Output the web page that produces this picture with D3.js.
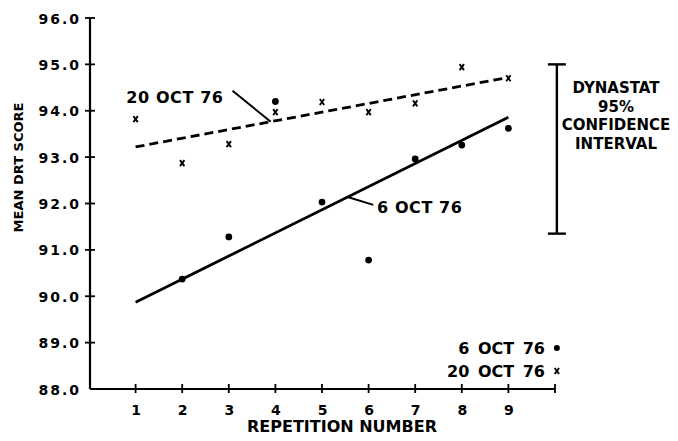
<!DOCTYPE html>
<html>
<head>
<meta charset="utf-8">
<script src="https://cdn.jsdelivr.net/npm/d3@7"></script>
<style>
  html, body { margin: 0; padding: 0; background: #fff; }
  svg text { font-family: "DejaVu Sans", sans-serif; font-weight: bold; fill: #000; }
</style>
</head>
<body>
<svg id="chart" width="678" height="441"></svg>
<script>
// ---- data ----
const repetitions = [1, 2, 3, 4, 5, 6, 7, 8, 9];
const oct6Reps   = [2, 3, 4, 5, 6, 7, 8, 9];
const oct6Values = [90.37, 91.28, 94.2, 92.03, 90.78, 92.96, 93.26, 93.62];
const oct20Values = [93.82, 92.87, 93.28, 93.97, 94.19, 93.97, 94.16, 94.94, 94.7];
const fitReps = [1, 9];
const fit6 = [89.87, 93.86];
const fit20 = [93.22, 94.72];
const yTicks = [88, 89, 90, 91, 92, 93, 94, 95, 96];
const xTicks = [1, 2, 3, 4, 5, 6, 7, 8, 9, 10];
const xTickLabels = ["1", "2", "3", "4", "5", "6", "7", "8", "9", ""];
const ciRange = [91.35, 95.0];
const ciText = ["DYNASTAT", "95%", "CONFIDENCE", "INTERVAL"];
const legendLabels = ["6 OCT 76", "20 OCT 76"];

// ---- scales ----
const svg = d3.select("#chart");
const x = d3.scaleLinear().domain([0, 10]).range([89, 555]);
const y = d3.scaleLinear().domain([88, 96]).range([389, 18]);

// ---- axes ----
const yAxis = d3.axisLeft(y).tickValues(yTicks).tickSize(0).tickFormat(d3.format(".1f"));
const gy = svg.append("g").attr("transform", `translate(${x(0) + 1},0)`).call(yAxis);
gy.select(".domain").remove();
gy.selectAll(".tick line").remove();
gy.selectAll(".tick text")
  .attr("x", -9).attr("dy", "0.36em")
  .style("font-size", "14px").style("letter-spacing", "2px");

const xAxis = d3.axisBottom(x).tickValues(xTicks).tickSize(0).tickFormat((d, i) => xTickLabels[i]);
const gx = svg.append("g").attr("transform", `translate(0,${y(88)})`).call(xAxis);
gx.select(".domain").remove();
gx.selectAll(".tick line").remove();
gx.selectAll(".tick text").attr("y", 16).attr("dy", "0.71em").style("font-size", "14px");

// axis lines
svg.append("line")
  .attr("x1", x(0) + 1).attr("x2", x(0) + 1).attr("y1", y(96)).attr("y2", y(88))
  .attr("stroke", "#000").attr("stroke-width", 2.2);
svg.append("line")
  .attr("x1", x(0) + 1).attr("x2", x(10)).attr("y1", y(88)).attr("y2", y(88))
  .attr("stroke", "#000").attr("stroke-width", 2.2);
// y ticks (crossing)
svg.selectAll(".ytk").data(yTicks.slice(1)).enter().append("line")
  .attr("x1", x(0) - 4).attr("x2", x(0) + 6)
  .attr("y1", d => y(d)).attr("y2", d => y(d))
  .attr("stroke", "#000").attr("stroke-width", 1.8);
// x ticks (crossing)
svg.selectAll(".xtk").data(xTicks).enter().append("line")
  .attr("x1", d => x(d)).attr("x2", d => x(d))
  .attr("y1", y(88) - 5).attr("y2", y(88) + 4)
  .attr("stroke", "#000").attr("stroke-width", 1.8);

// axis titles
svg.append("text")
  .attr("transform", `translate(23,${(y(96) + y(88)) / 2 - 36}) rotate(-90)`)
  .attr("text-anchor", "middle").style("font-size", "13px")
  .text("MEAN DRT SCORE");
svg.append("text")
  .attr("x", (x(0) + x(10)) / 2 + 20).attr("y", 432)
  .attr("text-anchor", "middle").style("font-size", "16px")
  .text("REPETITION NUMBER");

// ---- regression lines ----
const line = d3.line().x(d => x(d[0])).y(d => y(d[1]));
svg.append("path")
  .datum(fitReps.map((r, i) => [r, fit6[i]]))
  .attr("d", line).attr("fill", "none").attr("stroke", "#000").attr("stroke-width", 2.8);
svg.append("path")
  .datum(fitReps.map((r, i) => [r, fit20[i]]))
  .attr("d", line).attr("fill", "none").attr("stroke", "#000").attr("stroke-width", 2.8)
  .attr("stroke-dasharray", "9,5");

// ---- points ----
svg.selectAll(".dot6").data(oct6Reps.map((r, i) => [r, oct6Values[i]])).enter()
  .append("circle")
  .attr("cx", d => x(d[0])).attr("cy", d => y(d[1])).attr("r", 3.4).attr("fill", "#000");

const xMark = (g, cx, cy) => {
  g.append("path")
    .attr("d", `M${cx - 2.2},${cy - 3}L${cx + 2.2},${cy + 3}M${cx + 2.2},${cy - 3}L${cx - 2.2},${cy + 3}`)
    .attr("stroke", "#000").attr("stroke-width", 1.9).attr("fill", "none");
};
repetitions.forEach((r, i) => xMark(svg, x(r), y(oct20Values[i])));

// ---- annotations ----
const fitAt = (fit, r) => fit[0] + (fit[1] - fit[0]) * (r - fitReps[0]) / (fitReps[1] - fitReps[0]);
// 20 OCT 76 label
svg.append("text").attr("x", x(0.8)).attr("y", y(94.17))
  .style("font-size", "16px").style("letter-spacing", "0.6px").text("20 OCT 76");
svg.append("line")
  .attr("x1", x(3.08)).attr("y1", y(94.43))
  .attr("x2", x(3.9)).attr("y2", y(fitAt(fit20, 3.9)))
  .attr("stroke", "#000").attr("stroke-width", 2);
// 6 OCT 76 label
svg.append("text").attr("x", x(6.18)).attr("y", y(91.8))
  .style("font-size", "16px").style("letter-spacing", "0.6px").text("6 OCT 76");
svg.append("line")
  .attr("x1", x(5.55)).attr("y1", y(fitAt(fit6, 5.55)))
  .attr("x2", x(6.1)).attr("y2", y(91.97))
  .attr("stroke", "#000").attr("stroke-width", 2);

// ---- confidence interval ----
const ciX = x(10.04);
svg.append("line").attr("x1", ciX).attr("x2", ciX)
  .attr("y1", y(ciRange[1])).attr("y2", y(ciRange[0]))
  .attr("stroke", "#000").attr("stroke-width", 2.4);
ciRange.forEach(v => svg.append("line")
  .attr("x1", ciX - 9).attr("x2", ciX + 9).attr("y1", y(v)).attr("y2", y(v))
  .attr("stroke", "#000").attr("stroke-width", 2.4));
svg.selectAll(".ci").data(ciText).enter().append("text")
  .attr("x", 616).attr("y", (d, i) => 93 + i * 18.5)
  .attr("text-anchor", "middle").style("font-size", "15px")
  .text(d => d);

// ---- legend ----
legendLabels.forEach((lab, i) => {
  const ly = 354 + i * 23;
  svg.append("text").attr("x", 545).attr("y", ly)
    .attr("text-anchor", "end").style("font-size", "16px").style("word-spacing", "3px")
    .text(lab);
  if (i === 0) {
    svg.append("circle").attr("cx", ciX).attr("cy", ly - 6).attr("r", 3).attr("fill", "#000");
  } else {
    xMark(svg, ciX, ly - 6);
  }
});
</script>
</body>
</html>
